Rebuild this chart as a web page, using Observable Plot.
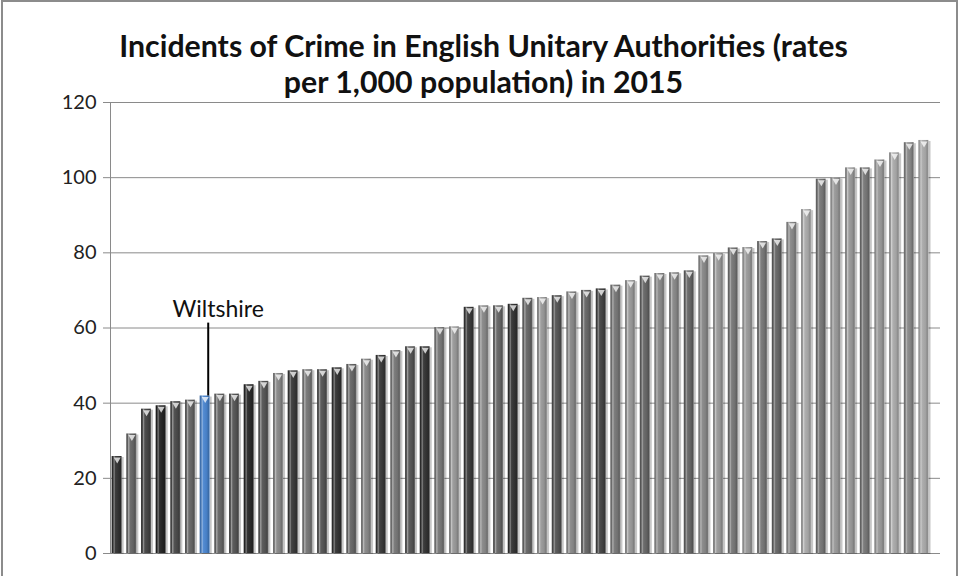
<!DOCTYPE html>
<html>
<head>
<meta charset="utf-8">
<script src="https://cdn.jsdelivr.net/npm/d3@7"></script>
<script src="https://cdn.jsdelivr.net/npm/@observablehq/plot@0.6"></script>
<style>
  html, body { margin: 0; padding: 0; background: #fff; }
  #wrap { position: relative; width: 959px; height: 576px; overflow: hidden; }
  #border { position: absolute; left: 1px; top: 0; width: 953px; height: 600px; border: 2px solid #8c8c8c; pointer-events: none; }
  #title { position: absolute; left: 0; top: 0; width: 959px; box-sizing: border-box; padding-top: 27px; padding-left: 8px; text-align: center;
           font-family: Lato, "Open Sans", sans-serif; font-weight: bold; font-size: 30.3px; line-height: 36px; color: #111; white-space: nowrap; }
  #chart { position: absolute; left: 0; top: 80px; }
  #chart svg { display: block; }
  .yax text { font-family: "Liberation Sans Narrow", Lato, sans-serif; }
</style>
</head>
<body>
<div id="wrap">
  <div id="title">Incidents of Crime in English Unitary Authorities (rates<br>per 1,000 population) in 2015</div>
  <div id="chart"></div>
  <div id="border"></div>
</div>
<script>
// Crime rates per 1,000 population, 2015, English unitary authorities (sorted ascending)
const rates = [
  25.8, 31.8, 38.4, 39.3, 40.4, 40.8, 41.9, 42.4, 42.4, 44.9,
  45.8, 47.9, 48.6, 48.9, 48.9, 49.4, 50.3, 51.7, 52.7, 54.0,
  55.0, 55.0, 60.1, 60.3, 65.5, 65.9, 65.9, 66.3, 67.9, 68.1,
  68.6, 69.6, 70.0, 70.4, 71.4, 72.6, 73.8, 74.5, 74.7, 75.2,
  79.2, 79.8, 81.3, 81.4, 83.0, 83.7, 88.1, 91.5, 99.6, 99.9,
  102.6, 102.6, 104.7, 106.6, 109.3, 109.9
];
// Authority labels (only Wiltshire is named on the chart)
const highlighted = "Wiltshire";
const authorities = rates.map((_, i) => i === 6 ? highlighted : `UA ${i + 1}`);
// Y axis tick labels
const yTicks = [0, 20, 40, 60, 80, 100, 120];

// Style: per-bar grey shades as seen in the chart
const barShades = [
  "#333333", "#666666", "#444444", "#252525", "#4a4a4a", "#666666", "#4a85cf", "#666666", "#555555", "#2a2a2a",
  "#555555", "#888888", "#3a3a3a", "#777777", "#555555", "#333333", "#666666", "#888888", "#3a3a3a", "#777777",
  "#555555", "#333333", "#777777", "#999999", "#3a3a3a", "#888888", "#666666", "#333333", "#666666", "#999999",
  "#555555", "#888888", "#666666", "#444444", "#777777", "#999999", "#666666", "#888888", "#888888", "#666666",
  "#888888", "#999999", "#777777", "#999999", "#777777", "#666666", "#888888", "#aaaaaa", "#777777", "#999999",
  "#999999", "#777777", "#999999", "#aaaaaa", "#888888", "#aaaaaa"
];

const data = authorities.map((name, i) => ({name, value: rates[i], shade: barShades[i]}));
const wilts = data.filter(d => d.name === highlighted);

const plot = Plot.plot({
  width: 959,
  height: 496,
  marginTop: 22,
  marginBottom: 23,
  marginLeft: 110,
  marginRight: 19,
  style: {fontFamily: "Lato, 'Open Sans', sans-serif", fontSize: "18px", color: "#222", background: "transparent", overflow: "visible"},
  x: {domain: authorities, paddingInner: 0.32, paddingOuter: 0.45, align: 0.13, axis: null},
  y: {domain: [0, 120], ticks: yTicks, label: null},
  color: {type: "identity"},
  marks: [
    Plot.gridY(yTicks, {stroke: "#8a8a8a", strokeOpacity: 1}),
    Plot.axisY(yTicks, {tickSize: 7, tickPadding: 7, stroke: "#8a8a8a", fill: "#222", label: null, fontSize: 20}),
    Plot.frame({anchor: "left", stroke: "#8a8a8a"}),
    Plot.barY(data, {x: "name", y: "value", fill: "#000", fillOpacity: 0.22, dx: 2, dy: 1, ariaLabel: "shadow"}),
    Plot.barY(data, {x: "name", y: "value", fill: "shade"}),
    Plot.barY(data, {x: "name", y: "value", fill: "url(#cyl)"}),
    Plot.dot(data, {x: "name", y: "value", symbol: "triangle", rotate: 180, r: 2.6, dy: 3, fill: "#fff", fillOpacity: 0.75, stroke: "none"}),
    Plot.ruleX(wilts, {x: "name", y1: "value", y2: d => d.value + 19.4, dx: 3, stroke: "#000", strokeWidth: 2}),
    Plot.text(wilts, {x: "name", y: "value", text: "name", dx: 13, dy: -79, lineAnchor: "bottom", fontSize: 23, fill: "#111"})
  ]
});

// gradient overlay for a cylindrical look, and a soft shadow filter
const svgNS = "http://www.w3.org/2000/svg";
const defs = document.createElementNS(svgNS, "defs");
defs.innerHTML = `
  <linearGradient id="cyl" x1="0" x2="1" y1="0" y2="0">
    <stop offset="0" stop-color="#000" stop-opacity="0.35"/>
    <stop offset="0.1" stop-color="#000" stop-opacity="0.1"/>
    <stop offset="0.22" stop-color="#fff" stop-opacity="0.45"/>
    <stop offset="0.38" stop-color="#fff" stop-opacity="0.05"/>
    <stop offset="0.7" stop-color="#000" stop-opacity="0.05"/>
    <stop offset="0.88" stop-color="#000" stop-opacity="0.2"/>
    <stop offset="1" stop-color="#fff" stop-opacity="0.3"/>
  </linearGradient>
  <filter id="soft" x="-50%" y="-5%" width="200%" height="110%">
    <feGaussianBlur stdDeviation="1.4"/>
  </filter>`;
plot.insertBefore(defs, plot.firstChild);
const sh = plot.querySelector('[aria-label="shadow"]');
if (sh) sh.setAttribute("filter", "url(#soft)");
plot.querySelectorAll('g[aria-label="y-axis tick label"]').forEach(g => g.classList.add("yax"));

document.getElementById("chart").appendChild(plot);
</script>
</body>
</html>
